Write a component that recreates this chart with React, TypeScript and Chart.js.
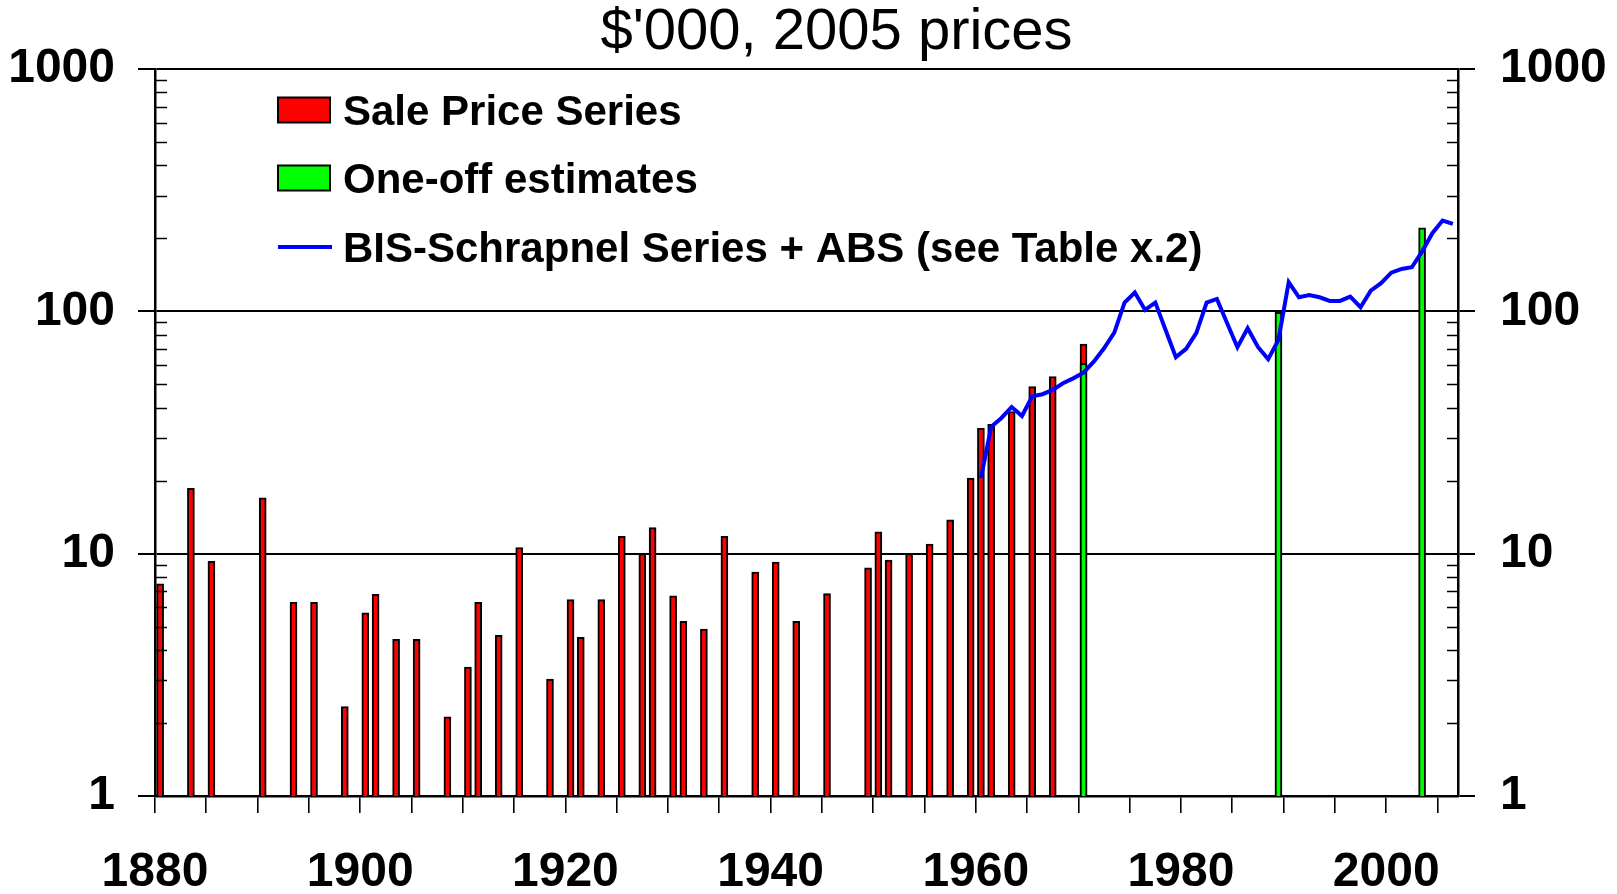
import React, { useEffect, useRef } from "react";
import { Chart, registerables } from "chart.js";

Chart.register(...registerables);

const FONT = "'Liberation Sans', Arial, Helvetica, sans-serif";

// ---- data ----
const saleYears = [1880, 1883, 1885, 1890, 1893, 1895, 1898, 1900, 1901, 1903, 1905, 1908, 1910, 1911, 1913, 1915, 1918, 1920, 1921, 1923, 1925, 1927, 1928, 1930, 1931, 1933, 1935, 1938, 1940, 1942, 1945, 1949, 1950, 1951, 1953, 1955, 1957, 1959, 1960, 1961, 1963, 1965, 1967, 1970];
const saleValues = [7.5, 18.6, 9.3, 17.0, 6.3, 6.3, 2.34, 5.7, 6.8, 4.43, 4.43, 2.12, 3.4, 6.3, 4.6, 10.6, 3.04, 6.46, 4.52, 6.46, 11.8, 10.0, 12.8, 6.7, 5.26, 4.88, 11.8, 8.4, 9.24, 5.26, 6.84, 8.75, 12.3, 9.42, 10.0, 10.96, 13.8, 20.5, 32.9, 34.2, 38.6, 48.9, 53.8, 73.2];

const oneOffYears = [1970, 1989, 2003];
const oneOffValues = [61, 99, 221];

const bisYears = [1960, 1961, 1962, 1963, 1964, 1965, 1966, 1967, 1968, 1969, 1970, 1971, 1972, 1973, 1974, 1975, 1976, 1977, 1978, 1979, 1980, 1981, 1982, 1983, 1984, 1985, 1986, 1987, 1988, 1989, 1990, 1991, 1992, 1993, 1994, 1995, 1996, 1997, 1998, 1999, 2000, 2001, 2002, 2003, 2004, 2005, 2006];
const bisValues = [20.5, 33.4, 36.3, 40.3, 37.0, 44.6, 45.5, 47.4, 50.5, 52.9, 55.8, 62.0, 70.4, 81.7, 108.6, 119.5, 101.3, 108.6, 83.8, 64.7, 70.0, 81.5, 108.6, 112.5, 89.3, 71.1, 85.2, 71.3, 63.5, 76.2, 132, 114.3, 116.8, 114.3, 110.4, 110.4, 115, 104, 121.7, 130.6, 144.4, 149.6, 152, 176.4, 210, 236.8, 229.5];

const seriesLabels = ["Sale Price Series", "One-off estimates", "BIS-Schrapnel Series + ABS (see Table x.2)"];
const titleText = "$'000, 2005 prices";

const yTickValues = [1, 10, 100, 1000];
const yMinorMultipliers = [2, 3, 4, 5, 6, 7, 8, 9];
const yMinorDecades = [1, 10, 100];
const xTickYears = [1880, 1885, 1890, 1895, 1900, 1905, 1910, 1915, 1920, 1925, 1930, 1935, 1940, 1945, 1950, 1955, 1960, 1965, 1970, 1975, 1980, 1985, 1990, 1995, 2000, 2005];
const xLabelYears = [1880, 1900, 1920, 1940, 1960, 1980, 2000];
const X_MIN = 1880;
const X_MAX = 2007;

// bars/points sit in the middle of their year slot
const toPoints = (years: number[], values: number[]) =>
  years.map((yr, i) => ({ x: yr + 0.5, y: values[i] }));

const minorTicksPlugin = {
  id: "minorTicks",
  afterDraw(chart: any) {
    const { ctx, chartArea } = chart;
    const ys = chart.scales.y;
    ctx.save();
    ctx.strokeStyle = "#000";
    ctx.lineWidth = 1.6;
    ctx.beginPath();
    for (const d of yMinorDecades) {
      for (const m of yMinorMultipliers) {
        const p = Math.round(ys.getPixelForValue(m * d)) + 0.5;
        ctx.moveTo(chartArea.left, p);
        ctx.lineTo(chartArea.left + 12, p);
        ctx.moveTo(chartArea.right, p);
        ctx.lineTo(chartArea.right - 11, p);
      }
    }
    ctx.stroke();
    ctx.restore();
  },
};

const legendPlugin = {
  id: "customLegend",
  afterDraw(chart: any) {
    const { ctx, chartArea } = chart;
    const ds = chart.data.datasets;
    const x0 = chartArea.left + 123;
    const boxW = 52;
    const boxH = 25;
    const rowCenters = [chartArea.top + 41, chartArea.top + 109, chartArea.top + 178];
    ctx.save();
    ctx.font = `bold 42px ${FONT}`;
    ctx.textBaseline = "alphabetic";
    ctx.textAlign = "left";
    ds.forEach((d: any, i: number) => {
      const cy = rowCenters[i];
      if (d.type === "line") {
        ctx.strokeStyle = d.borderColor;
        ctx.lineWidth = 4;
        ctx.beginPath();
        ctx.moveTo(x0, cy);
        ctx.lineTo(x0 + boxW + 2, cy);
        ctx.stroke();
      } else {
        ctx.fillStyle = d.backgroundColor;
        ctx.fillRect(x0, cy - boxH / 2, boxW, boxH);
        ctx.strokeStyle = "#000";
        ctx.lineWidth = 2;
        ctx.strokeRect(x0, cy - boxH / 2, boxW, boxH);
      }
      ctx.fillStyle = "#000";
      ctx.fillText(d.label, x0 + boxW + 13, cy + 15);
    });
    ctx.restore();
  },
};

export default function App() {
  const ref = useRef<HTMLCanvasElement>(null);

  useEffect(() => {
    const canvas = ref.current;
    if (!canvas) return;
    const tickFont = { family: FONT, size: 48, weight: "bold" as const };
    const chart = new Chart(canvas, {
      type: "bar",
      data: {
        datasets: [
          {
            type: "bar",
            label: seriesLabels[0],
            data: toPoints(saleYears, saleValues),
            backgroundColor: "#FF0000",
            borderColor: "#000000",
            borderWidth: 2,
            barThickness: 7,
            grouped: false,
            order: 2,
          } as any,
          {
            type: "bar",
            label: seriesLabels[1],
            data: toPoints(oneOffYears, oneOffValues),
            backgroundColor: "#00FF00",
            borderColor: "#000000",
            borderWidth: 2,
            barThickness: 7,
            grouped: false,
            order: 1,
          } as any,
          {
            type: "line",
            label: seriesLabels[2],
            data: toPoints(bisYears, bisValues),
            borderColor: "#0000FF",
            backgroundColor: "#0000FF",
            borderWidth: 4,
            pointRadius: 0,
            tension: 0,
            fill: false,
            order: 0,
          } as any,
        ],
      },
      options: {
        responsive: false,
        animation: false,
        devicePixelRatio: 1,
        // negative right padding widens the full-width title box so the title
        // centre sits where the reference has it; the right axis box absorbs it.
        layout: { padding: { left: 0, right: -56, top: 0, bottom: 0 } },
        plugins: {
          legend: { display: false },
          tooltip: { enabled: false },
          title: {
            display: true,
            text: titleText,
            color: "#000",
            font: { family: FONT, size: 58, weight: "normal", lineHeight: 1 },
            padding: { top: 4, bottom: 7 },
          },
        },
        scales: {
          x: {
            type: "linear",
            min: X_MIN,
            max: X_MAX,
            offset: false,
            afterBuildTicks: (scale: any) => {
              scale.ticks = xTickYears.map((v) => ({ value: v }));
            },
            afterFit: (scale: any) => {
              scale.height = 98;
            },
            ticks: {
              autoSkip: false,
              maxRotation: 0,
              minRotation: 0,
              padding: 31,
              color: "#000",
              font: tickFont,
              callback: (v: any) => (xLabelYears.includes(Number(v)) ? String(v) : ""),
            },
            grid: {
              offset: false,
              drawOnChartArea: false,
              drawTicks: true,
              tickLength: 17,
              color: "#000",
              lineWidth: 1.6,
            },
            border: { display: true, color: "#000", width: 2.5 },
          },
          y: {
            type: "logarithmic",
            position: "left",
            min: 1,
            max: 1000,
            afterBuildTicks: (scale: any) => {
              scale.ticks = yTickValues.map((v) => ({ value: v }));
            },
            afterFit: (scale: any) => {
              scale.width = 155;
            },
            ticks: {
              padding: 23,
              color: "#000",
              font: tickFont,
              callback: (v: any) => String(v),
            },
            grid: {
              drawOnChartArea: true,
              drawTicks: true,
              tickLength: 17,
              color: "#000",
              lineWidth: 2,
            },
            border: { display: true, color: "#000", width: 2.5 },
          },
          y2: {
            type: "logarithmic",
            position: "right",
            min: 1,
            max: 1000,
            afterBuildTicks: (scale: any) => {
              scale.ticks = yTickValues.map((v) => ({ value: v }));
            },
            afterFit: (scale: any) => {
              scale.width = 159 + 56;
            },
            ticks: {
              padding: 25,
              color: "#000",
              font: tickFont,
              callback: (v: any) => String(v),
            },
            grid: {
              drawOnChartArea: false,
              drawTicks: true,
              tickLength: 17,
              color: "#000",
              lineWidth: 2,
            },
            border: { display: true, color: "#000", width: 2.5 },
          },
        },
      } as any,
      plugins: [minorTicksPlugin, legendPlugin],
    });
    return () => chart.destroy();
  }, []);

  return (
    <div style={{ position: "fixed", left: 0, top: 0, width: 1617, height: 894, background: "#fff" }}>
      <canvas ref={ref} width={1617} height={894} style={{ display: "block" }} />
    </div>
  );
}
